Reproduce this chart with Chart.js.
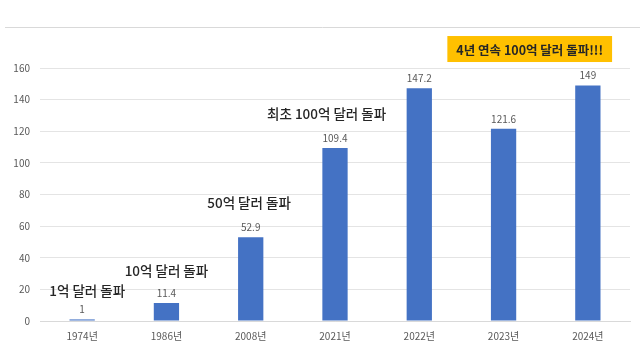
<!DOCTYPE html>
<html>
<head>
<meta charset="utf-8">
<script src="https://cdn.jsdelivr.net/npm/chart.js@4.4.0/dist/chart.umd.min.js"></script>
<style>
    html, body { margin: 0; padding: 0; background: #fff; }
    #wrap { width: 640px; height: 351px; position: relative; }
</style>
</head>
<body>
<div id="wrap"><canvas id="exportChart"></canvas></div>
<script>
// 수출액 (억 달러)
const years = ['1974년', '1986년', '2008년', '2021년', '2022년', '2023년', '2024년'];
const exportValues = [1, 11.4, 52.9, 109.4, 147.2, 121.6, 149];
const yTicks = [0, 20, 40, 60, 80, 100, 120, 140, 160];

// milestone notes: text, category index, value height
const noteTexts = ['1억 달러 돌파', '10억 달러 돌파', '50억 달러 돌파', '최초 100억 달러 돌파'];
const noteIndex = [0.06, 1.0, 1.98, 2.9];
const noteValue = [19, 32, 75, 131];

const badgeText = '4년 연속 100억 달러 돌파!!!';

const FONT = "'Noto Sans CJK KR', 'Noto Sans', sans-serif";

const notesPlugin = {
    id: 'notes',
    beforeDraw(chart) {
        const ctx = chart.ctx;
        ctx.save();
        ctx.strokeStyle = '#d9d9d9';
        ctx.lineWidth = 1;
        ctx.beginPath();
        ctx.moveTo(5, 27.5);
        ctx.lineTo(chart.width, 27.5);
        ctx.stroke();
        ctx.restore();
    },
    afterDatasetsDraw(chart) {
        const ctx = chart.ctx;
        const x = chart.scales.x;
        const y = chart.scales.y;
        ctx.save();

        // value labels
        const meta = chart.getDatasetMeta(0);
        ctx.font = `10px ${FONT}`;
        ctx.fillStyle = '#595959';
        ctx.textAlign = 'center';
        ctx.textBaseline = 'bottom';
        meta.data.forEach((bar, i) => {
            ctx.fillText(String(exportValues[i]), bar.x, bar.y - 5);
        });

        // milestone notes
        ctx.font = `500 13.5px ${FONT}`;
        ctx.fillStyle = '#262626';
        ctx.textBaseline = 'middle';
        noteTexts.forEach((t, i) => {
            ctx.fillText(t, x.getPixelForValue(noteIndex[i]), y.getPixelForValue(noteValue[i]));
        });

        // yellow badge
        const bx = (x.getPixelForValue(5) + x.getPixelForValue(6)) / 2 - 16;
        const by = y.getPixelForValue(172);
        ctx.font = `bold 12.5px ${FONT}`;
        const w = ctx.measureText(badgeText).width + 18;
        ctx.fillStyle = '#ffc000';
        ctx.fillRect(bx - w / 2, by - 13, w, 26);
        ctx.fillStyle = '#262626';
        ctx.fillText(badgeText, bx, by + 1);

        ctx.restore();
    }
};

new Chart(document.getElementById('exportChart'), {
    type: 'bar',
    data: {
        labels: years,
        datasets: [{
            data: exportValues,
            backgroundColor: '#4472c4',
            barPercentage: 0.3,
            categoryPercentage: 1.0
        }]
    },
    options: {
        responsive: true,
        maintainAspectRatio: false,
        animation: false,
        layout: { padding: { top: 68, right: 10, left: 0, bottom: 0 } },
        plugins: { legend: { display: false }, tooltip: { enabled: false } },
        scales: {
            x: {
                grid: { display: false, drawTicks: false },
                border: { color: '#d9d9d9' },
                ticks: { color: '#595959', font: { size: 10, family: FONT }, padding: 9 }
            },
            y: {
                min: 0,
                max: 160,
                afterBuildTicks(axis) { axis.ticks = yTicks.map(v => ({ value: v })); },
                afterFit(axis) { axis.width = 40; },
                grid: { color: '#e4e4e4', drawTicks: false },
                border: { display: false },
                ticks: { color: '#595959', font: { size: 10, family: FONT }, padding: 10 }
            }
        }
    },
    plugins: [notesPlugin]
});
</script>
</body>
</html>
